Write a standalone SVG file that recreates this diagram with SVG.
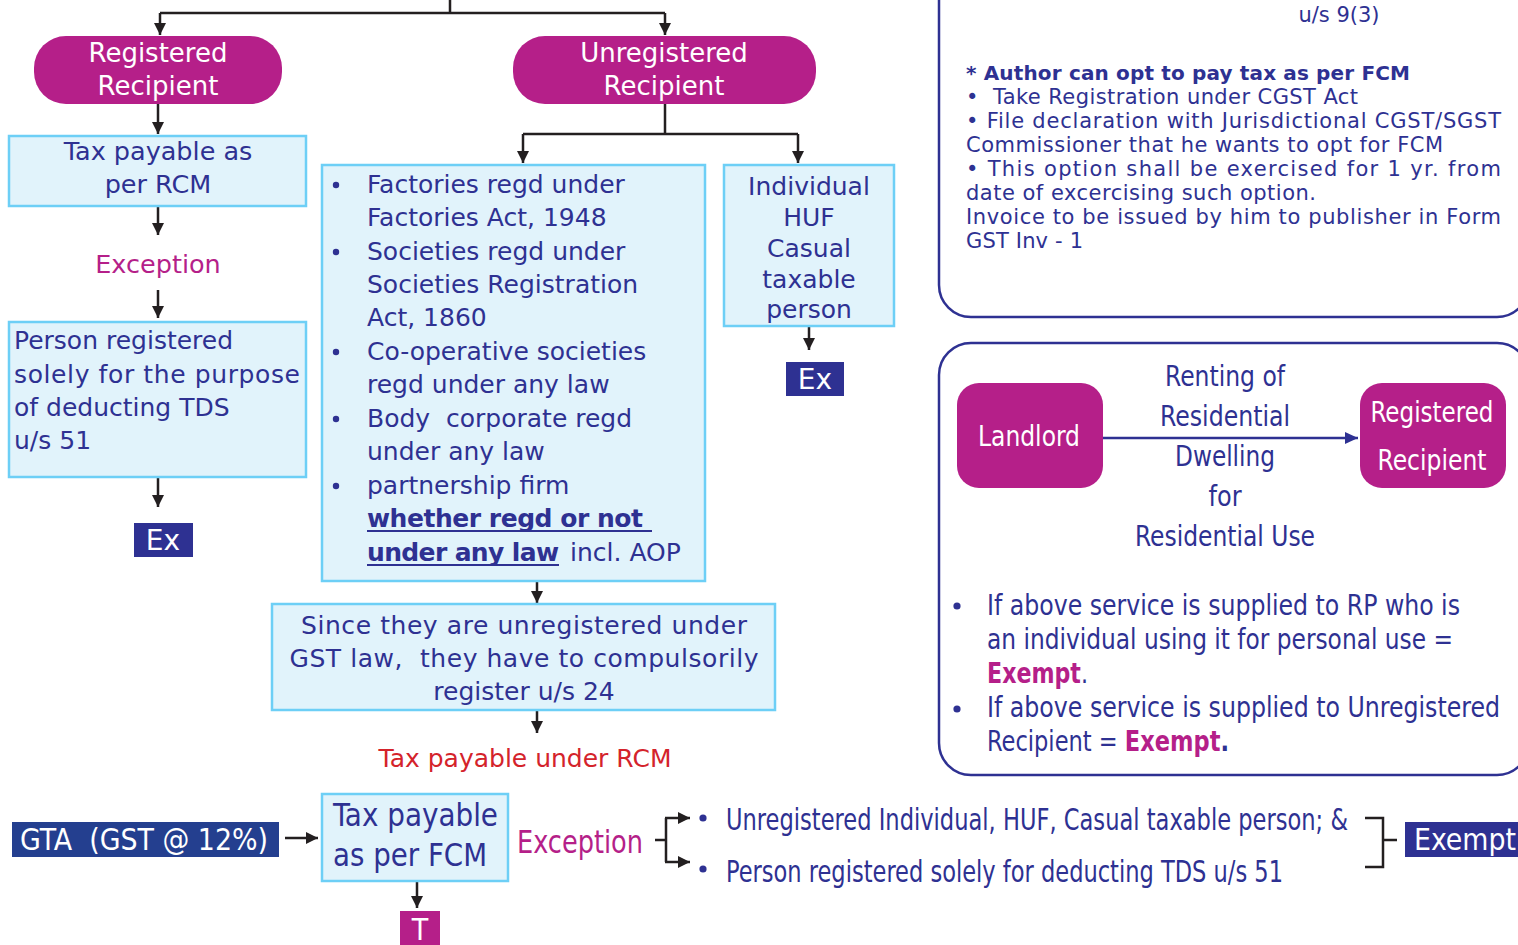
<svg xmlns="http://www.w3.org/2000/svg" width="1518" height="945" viewBox="0 0 1518 945">
<defs>
<marker id="ah" markerUnits="userSpaceOnUse" markerWidth="13" markerHeight="12" refX="12" refY="6" orient="auto">
<path d="M0,0 L12,6 L0,12 z" fill="#231F20"/>
</marker>
<marker id="ahn" markerUnits="userSpaceOnUse" markerWidth="14" markerHeight="12" refX="13" refY="6" orient="auto">
<path d="M0,0 L13,6 L0,12 z" fill="#2E3192"/>
</marker>
<style>
.t{font-family:"DejaVu Sans","Noto Sans",sans-serif;fill:#2E3192}
.c{font-family:"Liberation Sans Narrow","DejaVu Sans Condensed","Noto Sans",sans-serif;fill:#2E3192}
.w{fill:#FFFFFF}
.m{fill:#B51F89}
.n{fill:#2E3192}
.pill{fill:#B51F89}
.box{fill:#E1F3FB;stroke:#6DCFF6;stroke-width:2.5}
.ex{fill:#2E3192}
.frame{fill:none;stroke:#2E3192;stroke-width:2.5}
.conn{fill:none;stroke:#231F20;stroke-width:2.5}
.b{font-weight:bold}
</style>
</defs>
<rect width="1518" height="945" fill="#FFFFFF"/>

<g id="connectors">
<path class="conn" d="M450,0 V13 M160,13 H665"/>
<path class="conn" d="M160,13 V35" marker-end="url(#ah)"/>
<path class="conn" d="M665,13 V35" marker-end="url(#ah)"/>
<path class="conn" d="M158,104 V134" marker-end="url(#ah)"/>
<path class="conn" d="M158,207 V235" marker-end="url(#ah)"/>
<path class="conn" d="M158,290 V318" marker-end="url(#ah)"/>
<path class="conn" d="M158,478 V507" marker-end="url(#ah)"/>
<path class="conn" d="M665,104 V134 M523,134 H798"/>
<path class="conn" d="M523,134 V163" marker-end="url(#ah)"/>
<path class="conn" d="M798,134 V163" marker-end="url(#ah)"/>
<path class="conn" d="M809,327 V350" marker-end="url(#ah)"/>
<path class="conn" d="M537,581 V603" marker-end="url(#ah)"/>
<path class="conn" d="M537,711 V733" marker-end="url(#ah)"/>
<path class="conn" d="M285,838 H318" marker-end="url(#ah)"/>
<path class="conn" d="M417,882 V908" marker-end="url(#ah)"/>
<path class="conn" d="M655,840 H666 M666,818 V862"/>
<path class="conn" d="M665,818 H690" marker-end="url(#ah)"/>
<path class="conn" d="M665,862 H690" marker-end="url(#ah)"/>
<path class="conn" d="M1365,818 H1383 V867 H1365 M1383,840 H1397"/>
<path d="M1103,438 H1358" fill="none" stroke="#2E3192" stroke-width="2.5" marker-end="url(#ahn)"/>
</g>

<g id="registered-recipient">
<rect class="pill" x="34" y="36" width="248" height="68" rx="32"/>
<text class="t w" x="158" y="62" font-size="26" text-anchor="middle">Registered</text>
<text class="t w" x="158" y="95" font-size="26" text-anchor="middle">Recipient</text>
</g>

<g id="unregistered-recipient">
<rect class="pill" x="513" y="36" width="303" height="68" rx="32"/>
<text class="t w" x="664" y="62" font-size="26" text-anchor="middle">Unregistered</text>
<text class="t w" x="664" y="95" font-size="26" text-anchor="middle">Recipient</text>
</g>

<g id="tax-rcm">
<rect class="box" x="9" y="136" width="297" height="70"/>
<text class="t" x="158" y="160" font-size="25.5" text-anchor="middle">Tax payable as</text>
<text class="t" x="158" y="193" font-size="25.5" text-anchor="middle">per RCM</text>
</g>

<g id="exception-left">
<text class="t m" x="158" y="273" font-size="25.5" text-anchor="middle">Exception</text>
</g>

<g id="person-tds">
<rect class="box" x="9" y="322" width="297" height="155"/>
<text class="t" x="14" y="349" font-size="25">Person registered</text>
<text class="t" x="14" y="383" font-size="25" textLength="286">solely for the purpose</text>
<text class="t" x="14" y="416" font-size="25">of deducting TDS</text>
<text class="t" x="14" y="449" font-size="25">u/s 51</text>
</g>

<g id="ex-left">
<rect class="ex" x="134" y="523" width="59" height="34"/>
<text class="t w" x="163" y="550" font-size="28" text-anchor="middle">Ex</text>
</g>

<g id="entity-list">
<rect class="box" x="322" y="165" width="383" height="416"/>
<circle cx="336" cy="185" r="3.2" fill="#2E3192"/>
<circle cx="336" cy="252" r="3.2" fill="#2E3192"/>
<circle cx="336" cy="352" r="3.2" fill="#2E3192"/>
<circle cx="336" cy="419" r="3.2" fill="#2E3192"/>
<circle cx="336" cy="486" r="3.2" fill="#2E3192"/>
<text class="t" x="367" y="193" font-size="25">Factories regd under</text>
<text class="t" x="367" y="226" font-size="25">Factories Act, 1948</text>
<text class="t" x="367" y="260" font-size="25">Societies regd under</text>
<text class="t" x="367" y="293" font-size="25">Societies Registration</text>
<text class="t" x="367" y="326" font-size="25">Act, 1860</text>
<text class="t" x="367" y="360" font-size="25">Co-operative societies</text>
<text class="t" x="367" y="393" font-size="25">regd under any law</text>
<text class="t" x="367" y="427" font-size="25" xml:space="preserve">Body  corporate regd</text>
<text class="t" x="367" y="460" font-size="25">under any law</text>
<text class="t" x="367" y="494" font-size="25">partnership firm</text>
<text class="t b" x="367" y="527" font-size="25" textLength="276">whether regd or not</text>
<text class="t b" x="367" y="561" font-size="25" textLength="192">under any law</text>
<text class="t" x="570" y="561" font-size="25">incl. AOP</text>
<path d="M367,531 H652 M367,565 H559" stroke="#2E3192" stroke-width="2.2"/>
</g>

<g id="individual-huf">
<rect class="box" x="724" y="165" width="170" height="161"/>
<text class="t" x="809" y="195" font-size="25" text-anchor="middle">Individual</text>
<text class="t" x="809" y="226" font-size="25" text-anchor="middle">HUF</text>
<text class="t" x="809" y="257" font-size="25" text-anchor="middle">Casual</text>
<text class="t" x="809" y="288" font-size="25" text-anchor="middle">taxable</text>
<text class="t" x="809" y="318" font-size="25" text-anchor="middle">person</text>
</g>

<g id="ex-middle">
<rect class="ex" x="786" y="362" width="58" height="34"/>
<text class="t w" x="815" y="389" font-size="28" text-anchor="middle">Ex</text>
</g>

<g id="compulsory-registration">
<rect class="box" x="272" y="604" width="503" height="106"/>
<text class="t" x="524" y="634" font-size="25" text-anchor="middle" textLength="446">Since they are unregistered under</text>
<text class="t" x="524" y="667" font-size="25" text-anchor="middle" textLength="469" xml:space="preserve">GST law,  they have to compulsorily</text>
<text class="t" x="524" y="700" font-size="25" text-anchor="middle">register u/s 24</text>
</g>

<g id="tax-under-rcm">
<text class="t" x="525" y="767" font-size="25" text-anchor="middle" style="fill:#D4232B">Tax payable under RCM</text>
</g>

<g id="author-fcm-note">
<rect class="frame" x="939" y="-40" width="590" height="357" rx="32"/>
<text class="t" x="1339" y="22" font-size="21" text-anchor="middle">u/s 9(3)</text>
<text class="t b" x="966" y="80" font-size="20" textLength="444">* Author can opt to pay tax as per FCM</text>
<text class="t" x="966" y="104" font-size="21" textLength="392" xml:space="preserve">•  Take Registration under CGST Act</text>
<text class="t" x="966" y="128" font-size="21" textLength="535">• File declaration with Jurisdictional CGST/SGST</text>
<text class="t" x="966" y="152" font-size="21" textLength="477">Commissioner that he wants to opt for FCM</text>
<text class="t" x="966" y="176" font-size="21" textLength="535">• This option shall be exercised for 1 yr. from</text>
<text class="t" x="966" y="200" font-size="21" textLength="350">date of excercising such option.</text>
<text class="t" x="966" y="224" font-size="21" textLength="535">Invoice to be issued by him to publisher in Form</text>
<text class="t" x="966" y="248" font-size="21" textLength="117">GST Inv - 1</text>
</g>

<g id="residential-rent">
<rect class="frame" x="939" y="343" width="590" height="432" rx="32"/>
<text class="c" x="1225" y="386" font-size="29" text-anchor="middle" textLength="120" lengthAdjust="spacingAndGlyphs">Renting of</text>
<text class="c" x="1225" y="426" font-size="29" text-anchor="middle" textLength="130" lengthAdjust="spacingAndGlyphs">Residential</text>
<text class="c" x="1225" y="466" font-size="29" text-anchor="middle" textLength="100" lengthAdjust="spacingAndGlyphs">Dwelling</text>
<text class="c" x="1225" y="506" font-size="29" text-anchor="middle" textLength="33" lengthAdjust="spacingAndGlyphs">for</text>
<text class="c" x="1225" y="546" font-size="29" text-anchor="middle" textLength="180" lengthAdjust="spacingAndGlyphs">Residential Use</text>
<circle cx="957" cy="606" r="3.6" fill="#2E3192"/>
<circle cx="957" cy="709" r="3.6" fill="#2E3192"/>
<text class="c" x="987" y="615" font-size="28" textLength="473" lengthAdjust="spacingAndGlyphs">If above service is supplied to RP who is</text>
<text class="c" x="987" y="649" font-size="28" textLength="466" lengthAdjust="spacingAndGlyphs">an individual using it for personal use =</text>
<text class="c" x="987" y="683" font-size="28" textLength="101" lengthAdjust="spacingAndGlyphs"><tspan class="m b">Exempt</tspan><tspan class="n">.</tspan></text>
<text class="c" x="987" y="717" font-size="28" textLength="513" lengthAdjust="spacingAndGlyphs">If above service is supplied to Unregistered</text>
<text class="c" x="987" y="751" font-size="28" textLength="242" lengthAdjust="spacingAndGlyphs" xml:space="preserve">Recipient = <tspan class="m b">Exempt</tspan><tspan class="n b">.</tspan></text>
</g>

<g id="landlord">
<rect class="pill" x="957" y="383" width="146" height="105" rx="22"/>
<text class="c w" x="1029" y="446" font-size="29" text-anchor="middle" textLength="102" lengthAdjust="spacingAndGlyphs">Landlord</text>
</g>

<g id="registered-recipient-rent">
<rect class="pill" x="1360" y="383" width="146" height="105" rx="22"/>
<text class="c w" x="1432" y="422" font-size="29" text-anchor="middle" textLength="123" lengthAdjust="spacingAndGlyphs">Registered</text>
<text class="c w" x="1432" y="470" font-size="29" text-anchor="middle" textLength="109" lengthAdjust="spacingAndGlyphs">Recipient</text>
</g>

<g id="gta">
<rect x="12" y="822" width="267" height="35" fill="#243F8F"/>
<text class="c w" x="144" y="850" font-size="30" text-anchor="middle" textLength="248" lengthAdjust="spacingAndGlyphs" xml:space="preserve">GTA  (GST @ 12%)</text>
</g>

<g id="tax-fcm">
<rect class="box" x="322" y="794" width="186" height="87"/>
<text class="c" x="333" y="826" font-size="32" textLength="165" lengthAdjust="spacingAndGlyphs">Tax payable</text>
<text class="c" x="333" y="866" font-size="32" textLength="154" lengthAdjust="spacingAndGlyphs">as per FCM</text>
</g>

<g id="t-box">
<rect x="400" y="911" width="40" height="34" fill="#B51F89"/>
<text class="c w" x="420" y="940" font-size="30" text-anchor="middle">T</text>
</g>

<g id="exception-bottom">
<text class="c m" x="517" y="853" font-size="32" textLength="126" lengthAdjust="spacingAndGlyphs">Exception</text>
</g>

<g id="exception-items">
<circle cx="703" cy="818" r="3.6" fill="#2E3192"/>
<circle cx="703" cy="869" r="3.6" fill="#2E3192"/>
<text class="c" x="726" y="830" font-size="30" textLength="622" lengthAdjust="spacingAndGlyphs">Unregistered Individual, HUF, Casual taxable person; &amp;</text>
<text class="c" x="726" y="882" font-size="30" textLength="557" lengthAdjust="spacingAndGlyphs">Person registered solely for deducting TDS u/s 51</text>
</g>

<g id="exempt-bottom">
<rect class="ex" x="1405" y="822" width="130" height="35"/>
<text class="c w" x="1414" y="850" font-size="30" textLength="102" lengthAdjust="spacingAndGlyphs">Exempt</text>
</g>
</svg>
